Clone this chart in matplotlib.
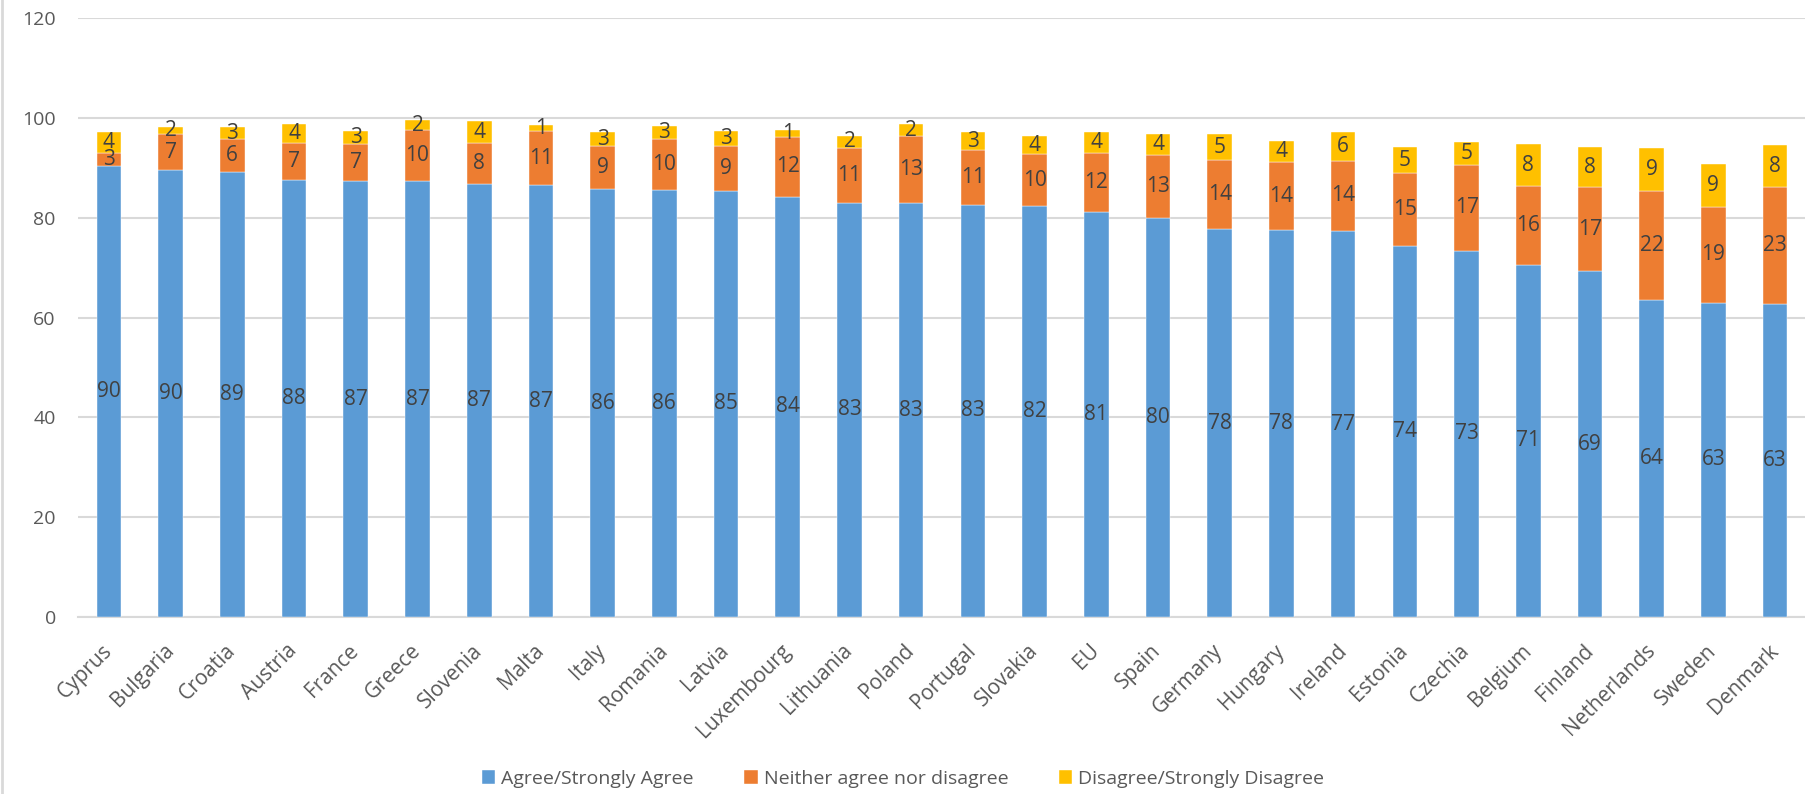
import matplotlib.pyplot as plt
import numpy as np
from matplotlib.lines import Line2D

plt.rcParams['font.family'] = ['Open Sans', 'DejaVu Sans']

countries = ["Cyprus", "Bulgaria", "Croatia", "Austria", "France", "Greece", "Slovenia",
             "Malta", "Italy", "Romania", "Latvia", "Luxembourg", "Lithuania", "Poland",
             "Portugal", "Slovakia", "EU", "Spain", "Germany", "Hungary", "Ireland",
             "Estonia", "Czechia", "Belgium", "Finland", "Netherlands", "Sweden", "Denmark"]

# bar heights
agree = [90.4, 89.5, 89.1, 87.5, 87.3, 87.3, 86.7, 86.5, 85.7, 85.5, 85.4, 84.2, 83.0, 82.9,
         82.6, 82.4, 81.2, 79.9, 77.7, 77.5, 77.3, 74.3, 73.4, 70.6, 69.3, 63.6, 63.0, 62.8]
neither = [2.6, 7.2, 6.6, 7.4, 7.4, 10.2, 8.2, 10.8, 8.6, 10.2, 9.0, 12.0, 11.0, 13.4,
           11.0, 10.3, 11.8, 12.6, 13.8, 13.6, 14.1, 14.6, 17.2, 15.7, 16.8, 21.7, 19.1, 23.4]
disagree = [4.1, 1.5, 2.5, 3.8, 2.7, 2.0, 4.4, 1.3, 2.9, 2.7, 3.0, 1.3, 2.4, 2.4,
            3.5, 3.6, 4.1, 4.3, 5.3, 4.3, 5.8, 5.2, 4.5, 8.4, 8.0, 8.6, 8.6, 8.3]

# printed data labels
agree_lbl = [90, 90, 89, 88, 87, 87, 87, 87, 86, 86, 85, 84, 83, 83,
             83, 82, 81, 80, 78, 78, 77, 74, 73, 71, 69, 64, 63, 63]
neither_lbl = [3, 7, 6, 7, 7, 10, 8, 11, 9, 10, 9, 12, 11, 13,
               11, 10, 12, 13, 14, 14, 14, 15, 17, 16, 17, 22, 19, 23]
disagree_lbl = [4, 2, 3, 4, 3, 2, 4, 1, 3, 3, 3, 1, 2, 2,
                3, 4, 4, 4, 5, 4, 6, 5, 5, 8, 8, 9, 9, 8]

series = [("Agree/Strongly Agree", agree, agree_lbl, "#5B9BD5"),
          ("Neither agree nor disagree", neither, neither_lbl, "#ED7D31"),
          ("Disagree/Strongly Disagree", disagree, disagree_lbl, "#FFC000")]

fig = plt.figure(figsize=(18.06, 7.94), dpi=100)
ax = fig.add_axes([0.0432, 0.2229, 0.9568, 0.7544])

x = np.arange(len(countries))
bottom = np.zeros(len(countries))
for name, vals, lbls, color in series:
    vals = np.array(vals)
    ax.bar(x, vals, 0.4, bottom=bottom, color=color, label=name,
           edgecolor='white', linewidth=0.3, zorder=3)
    for xi, b, v, t in zip(x, bottom, vals, lbls):
        ax.text(xi, b + v / 2, str(t), ha='center', va='center',
                fontsize=15, color='#404040', zorder=4)
    bottom += vals

ax.set_xlim(-0.5, len(countries) - 0.5)
ax.set_ylim(0, 120)
ax.set_yticks(range(0, 121, 20))
ax.yaxis.grid(True, color='#D9D9D9', linewidth=1.5, zorder=0)
for s in ['top', 'right', 'left']:
    ax.spines[s].set_visible(False)
ax.spines['bottom'].set_color('#D9D9D9')
ax.spines['bottom'].set_linewidth(1.5)
ax.tick_params(axis='both', length=0, labelsize=14, colors='#595959')
ax.tick_params(axis='y', pad=16)
ax.set_xticks(x)
ax.set_xticklabels(countries, rotation=45, ha='right', va='center', rotation_mode='anchor',
                   fontsize=15, color='#595959')
ax.tick_params(axis='x', pad=22)

fig.legend(loc='center', bbox_to_anchor=(0.5, 0.019), ncol=3, frameon=False,
           fontsize=14, handlelength=0.7, handleheight=0.7, handletextpad=0.3,
           columnspacing=2.6, labelcolor='#595959')

fig.add_artist(Line2D([0.001, 0.001], [0, 1], color='#D9D9D9', linewidth=2,
                      transform=fig.transFigure))

fig.savefig('out.png', dpi=100)
